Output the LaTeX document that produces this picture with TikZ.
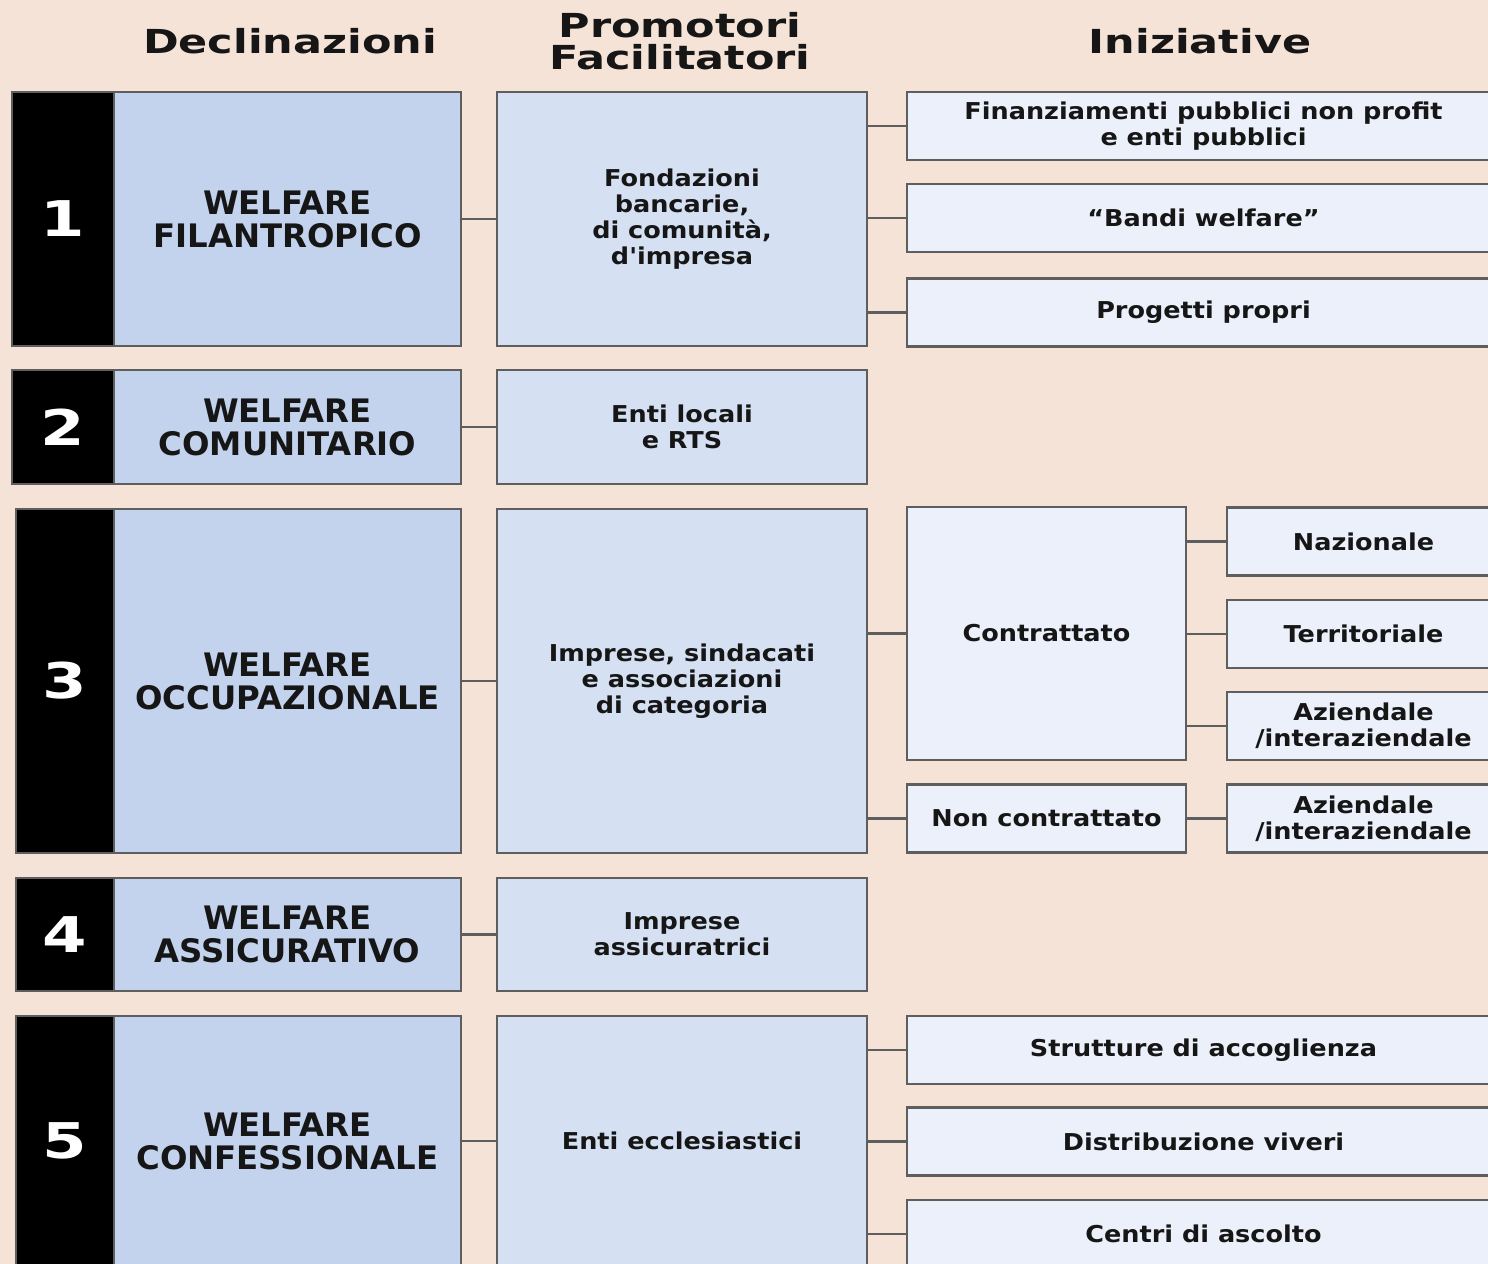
\documentclass[tikz,border=0pt]{standalone}
\usepackage{fontspec}
\setmainfont{DejaVu Sans}
\newfontfamily\headfont{DejaVu Sans}[FakeStretch=1.3]
\newfontfamily\boxfont{DejaVu Sans}[FakeStretch=1.1]
\definecolor{bgpeach}{HTML}{F5E3D7}
\definecolor{declblue}{HTML}{C3D2ED}
\definecolor{promblue}{HTML}{D5E0F2}
\definecolor{inizblue}{HTML}{EBF0FA}
\definecolor{edgegray}{HTML}{5E5E5E}
\definecolor{inkblack}{HTML}{161616}

\begin{document}
\begin{tikzpicture}[
            x = 0.01cm, y = -0.01cm,
            every node/.style={inner sep=0pt, align=center, text=inkblack},
            box/.style={draw=edgegray, line width=0.6pt, rectangle},
            numbox/.style={box, fill=black, text=white, minimum width=1cm,
                font=\headfont\bfseries\fontsize{14}{14}\selectfont},
            declbox/.style={box, fill=declblue, minimum width=3.47cm,
                font=\bfseries\fontsize{9.2}{9.4}\selectfont},
            prombox/.style={box, fill=promblue, minimum width=3.7cm,
                font=\boxfont\bfseries\fontsize{6.6}{7.4}\selectfont},
            inizbox/.style={box, fill=inizblue, minimum height=0.68cm,
                font=\boxfont\bfseries\fontsize{6.6}{7.4}\selectfont},
            header/.style={font=\headfont\bfseries\fontsize{9.4}{9.1}\selectfont},
            link/.style={draw=edgegray, line width=0.6pt},
            ]

        \clip (0,0) rectangle (1488,1264);
        \fill[bgpeach] (0,0) rectangle (1488,1264);

        % column headers
        \node[header] (hdecl) at (290,41) {Declinazioni};
        \node[header] (hprom) at (680,41) {Promotori\\Facilitatori};
        \node[header] (hiniz) at (1200,41) {Iniziative};

        % 1 filantropico
        \node[numbox, minimum height=2.54cm, minimum width=1.02cm] (n1) at (63,219) {1};
        \node[declbox, minimum height=2.54cm] (d1) at (287.5,219) {WELFARE\\FILANTROPICO};
        \node[prombox, minimum height=2.54cm] (p1) at (682,219) {Fondazioni\\bancarie,\\di comunità,\\d'impresa};
        \node[inizbox, minimum width=5.93cm] (i1a) at (1203.5,126) {Finanziamenti pubblici non profit\\e enti pubblici};
        \node[inizbox, minimum width=5.93cm] (i1b) at (1203.5,218) {“Bandi welfare”};
        \node[inizbox, minimum width=5.93cm] (i1c) at (1203.5,312.5) {Progetti propri};

        % 2 comunitario
        \node[numbox, minimum height=1.14cm, minimum width=1.02cm] (n2) at (63,427) {2};
        \node[declbox, minimum height=1.14cm] (d2) at (287.5,427) {WELFARE\\COMUNITARIO};
        \node[prombox, minimum height=1.14cm] (p2) at (682,427) {Enti locali\\e RTS};

        % 3 occupazionale
        \node[numbox, minimum height=3.44cm, minimum width=0.98cm] (n3) at (65,681) {3};
        \node[declbox, minimum height=3.44cm] (d3) at (287.5,681) {WELFARE\\OCCUPAZIONALE};
        \node[prombox, minimum height=3.44cm] (p3) at (682,681) {Imprese, sindacati\\e associazioni\\di categoria};
        \node[inizbox, minimum width=2.79cm, minimum height=2.53cm] (c3a) at (1046.5,633.5) {Contrattato};
        \node[inizbox, minimum width=2.79cm] (c3b) at (1046.5,818.5) {Non contrattato};
        \node[inizbox, minimum width=2.73cm] (s3a) at (1363.5,541.5) {Nazionale};
        \node[inizbox, minimum width=2.73cm] (s3b) at (1363.5,634) {Territoriale};
        \node[inizbox, minimum width=2.73cm] (s3c) at (1363.5,726) {Aziendale\\/interaziendale};
        \node[inizbox, minimum width=2.73cm] (s3d) at (1363.5,818.5) {Aziendale\\/interaziendale};

        % 4 assicurativo
        \node[numbox, minimum height=1.13cm, minimum width=0.98cm] (n4) at (65,934.5) {4};
        \node[declbox, minimum height=1.13cm] (d4) at (287.5,934.5) {WELFARE\\ASSICURATIVO};
        \node[prombox, minimum height=1.13cm] (p4) at (682,934.5) {Imprese\\assicuratrici};

        % 5 confessionale
        \node[numbox, minimum height=2.5cm, minimum width=0.98cm] (n5) at (65,1141) {5};
        \node[declbox, minimum height=2.5cm] (d5) at (287.5,1141) {WELFARE\\CONFESSIONALE};
        \node[prombox, minimum height=2.5cm] (p5) at (682,1141) {Enti ecclesiastici};
        \node[inizbox, minimum width=5.93cm] (i5a) at (1203.5,1050) {Strutture di accoglienza};
        \node[inizbox, minimum width=5.93cm] (i5b) at (1203.5,1141.5) {Distribuzione viveri};
        \node[inizbox, minimum width=5.93cm] (i5c) at (1203.5,1234) {Centri di ascolto};

        % links
        \foreach \r in {1,...,5}
            \draw[link] (d\r) -- (p\r);
        \foreach \t in {i1a,i1b,i1c}
            \draw[link] (\t.west -| p1.east) -- (\t.west);
        \foreach \t in {c3a,c3b}
            \draw[link] (\t.west -| p3.east) -- (\t.west);
        \foreach \t in {s3a,s3b,s3c}
            \draw[link] (\t.west -| c3a.east) -- (\t.west);
        \draw[link] (c3b) -- (s3d);
        \foreach \t in {i5a,i5b,i5c}
            \draw[link] (\t.west -| p5.east) -- (\t.west);
    \end{tikzpicture}
\end{document}
